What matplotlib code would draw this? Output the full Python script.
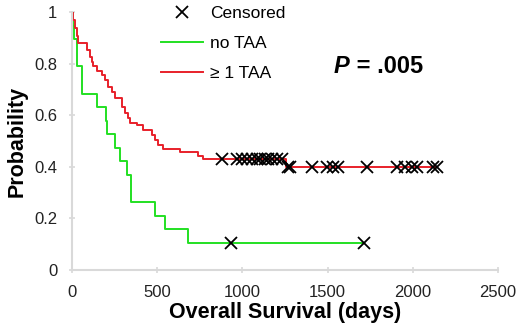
"""
Kaplan-Meier overall survival, no TAA vs >= 1 TAA.
"""

import matplotlib.pyplot as plt
from matplotlib.lines import Line2D

plt.rcParams["font.family"] = ["Liberation Sans", "DejaVu Sans"]

# step curves (time in days, survival probability)
no_taa_days = [0, 3, 10, 27, 60, 145, 200, 205, 252, 282, 325, 345, 487, 546, 683, 1715]
no_taa_surv = [1.0, 0.947, 0.895, 0.789, 0.684, 0.632, 0.579, 0.526, 0.474, 0.421,
               0.368, 0.263, 0.211, 0.158, 0.105, 0.105]

taa_days = [0, 8, 18, 28, 37, 86, 106, 116, 125, 145, 174, 194, 213, 233, 252, 292,
            311, 330, 340, 380, 418, 468, 487, 506, 536, 634, 741, 770, 1256, 2140]
taa_surv = [1.0, 0.969, 0.938, 0.905, 0.88, 0.853, 0.827, 0.808, 0.789, 0.77, 0.756,
            0.736, 0.71, 0.69, 0.665, 0.633, 0.607, 0.588, 0.569, 0.562, 0.543, 0.523,
            0.504, 0.484, 0.468, 0.459, 0.442, 0.43, 0.398, 0.398]

# censored observations
no_taa_cens_days = [932, 1715]
no_taa_cens_surv = [0.105, 0.105]

taa_cens_days = [878, 966, 996, 1025, 1055, 1084, 1103, 1133, 1152, 1172, 1201, 1231,
                 1270, 1279, 1407, 1495, 1534, 1563, 1729, 1906, 1954, 1994, 2023,
                 2120, 2140]
taa_cens_surv = [0.43] * 12 + [0.398] * 13

x_ticks = [0, 500, 1000, 1500, 2000, 2500]
y_ticks = [0, 0.2, 0.4, 0.6, 0.8, 1]

fig = plt.figure(figsize=(5.2, 3.32), dpi=100)
ax = fig.add_axes([0.1385, 0.1867, 0.8192, 0.7772])

green = "#22e022"
red = "#e8202a"

ax.step(no_taa_days, no_taa_surv, where="post", color=green, lw=1.4, zorder=2)
ax.step(taa_days, taa_surv, where="post", color=red, lw=1.4, zorder=2)
ax.plot(no_taa_cens_days, no_taa_cens_surv, "x", color="black", ms=8, mew=1.3, zorder=3)
ax.plot(taa_cens_days, taa_cens_surv, "x", color="black", ms=8, mew=1.3, zorder=3)

ax.set_xlim(0, 2500)
ax.set_ylim(0, 1)
ax.set_xticks(x_ticks)
ax.set_yticks(y_ticks)
ax.set_yticklabels(["0", "0.2", "0.4", "0.6", "0.8", "1"])

for side in ["top", "right"]:
    ax.spines[side].set_visible(False)
for side in ["left", "bottom"]:
    ax.spines[side].set_color("#d9d9d9")
    ax.spines[side].set_linewidth(1.5)
ax.tick_params(direction="inout", length=5, color="#d9d9d9", width=1.2,
               labelsize=12, labelcolor="#222222")
ax.tick_params(axis="y", pad=8)
ax.tick_params(axis="x", pad=8)

ax.set_xlabel("Overall Survival (days)", fontsize=15.5, fontweight="bold", labelpad=2)
ax.set_ylabel("Probability", fontsize=15.5, fontweight="bold", labelpad=5)

handles = [
    Line2D([], [], ls="none", marker="x", color="black", ms=8, mew=1.3),
    Line2D([], [], color=green, lw=1.4),
    Line2D([], [], color=red, lw=1.4),
]
ax.legend(handles, ["Censored", "no TAA", "\u2265 1 TAA"], loc="upper left",
          bbox_to_anchor=(0.172, 1.085), frameon=False, fontsize=12.5,
          handlelength=2.4, handletextpad=0.45, labelspacing=0.85)

p_txt = ax.text(0.615, 0.79, "P", transform=ax.transAxes, fontsize=17,
                fontweight="bold", fontstyle="italic", ha="left", va="center")
ax.annotate(" = .005", xy=(1, 0.5), xycoords=p_txt, fontsize=17,
            fontweight="bold", ha="left", va="center")

fig.savefig("out.png", dpi=100)
